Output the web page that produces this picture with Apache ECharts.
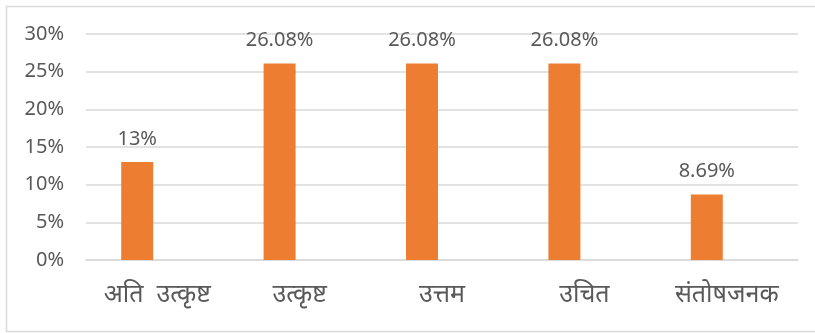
<!DOCTYPE html>
<html>
<head>
<meta charset="utf-8">
<style>
  html, body { margin: 0; padding: 0; background: #ffffff; }
  #chart { width: 815px; height: 333px; }
</style>
<script src="https://cdn.jsdelivr.net/npm/echarts@6/dist/echarts.min.js"></script>
</head>
<body>
<div id="chart"></div>
<script>
// Rating categories and their share of responses (percent)
const categories = ['अति  उत्कृष्ट', 'उत्कृष्ट', 'उत्तम', 'उचित', 'संतोषजनक'];
const shares = [13, 26.08, 26.08, 26.08, 8.69];
const shareLabels = ['13%', '26.08%', '26.08%', '26.08%', '8.69%'];
// Empty companion series that keeps the clustered slot beside each bar
const companion = [null, null, null, null, null];

const textColor = '#595959';
const fontStack = '"Noto Sans", "Open Sans", "Liberation Sans", sans-serif';

const chart = echarts.init(document.getElementById('chart'), null, { renderer: 'canvas' });

chart.setOption({
  backgroundColor: '#ffffff',
  animation: false,
  graphic: [{
    type: 'rect',
    left: 4, top: 4,
    shape: { width: 812, height: 325 },
    style: { fill: 'none', stroke: '#d9d9d9', lineWidth: 1.5 },
    silent: true
  }],
  grid: { left: 86, right: 17, top: 34, bottom: 73, containLabel: false },
  xAxis: {
    type: 'category',
    data: categories,
    axisLine: { show: true, lineStyle: { color: '#d9d9d9', width: 1.5 } },
    axisTick: { show: false },
    axisLabel: {
      color: textColor,
      fontFamily: fontStack,
      fontSize: 25,
      margin: 22
    }
  },
  yAxis: {
    type: 'value',
    min: 0, max: 30, interval: 5,
    axisLine: { show: false },
    axisTick: { show: false },
    splitLine: { lineStyle: { color: '#d9d9d9', width: 1.5 } },
    axisLabel: {
      color: textColor,
      fontFamily: fontStack,
      fontSize: 20,
      margin: 22,
      formatter: v => v + '%'
    }
  },
  series: [
    {
      type: 'bar',
      data: shares,
      barWidth: 32,
      barGap: '25%',
      itemStyle: { color: '#ED7D31' },
      label: {
        show: true,
        position: 'top',
        distance: 13,
        color: textColor,
        fontFamily: fontStack,
        fontSize: 20,
        formatter: p => shareLabels[p.dataIndex]
      }
    },
    {
      type: 'bar',
      data: companion,
      barWidth: 32,
      itemStyle: { color: '#A5A5A5' }
    }
  ]
});
</script>
</body>
</html>
